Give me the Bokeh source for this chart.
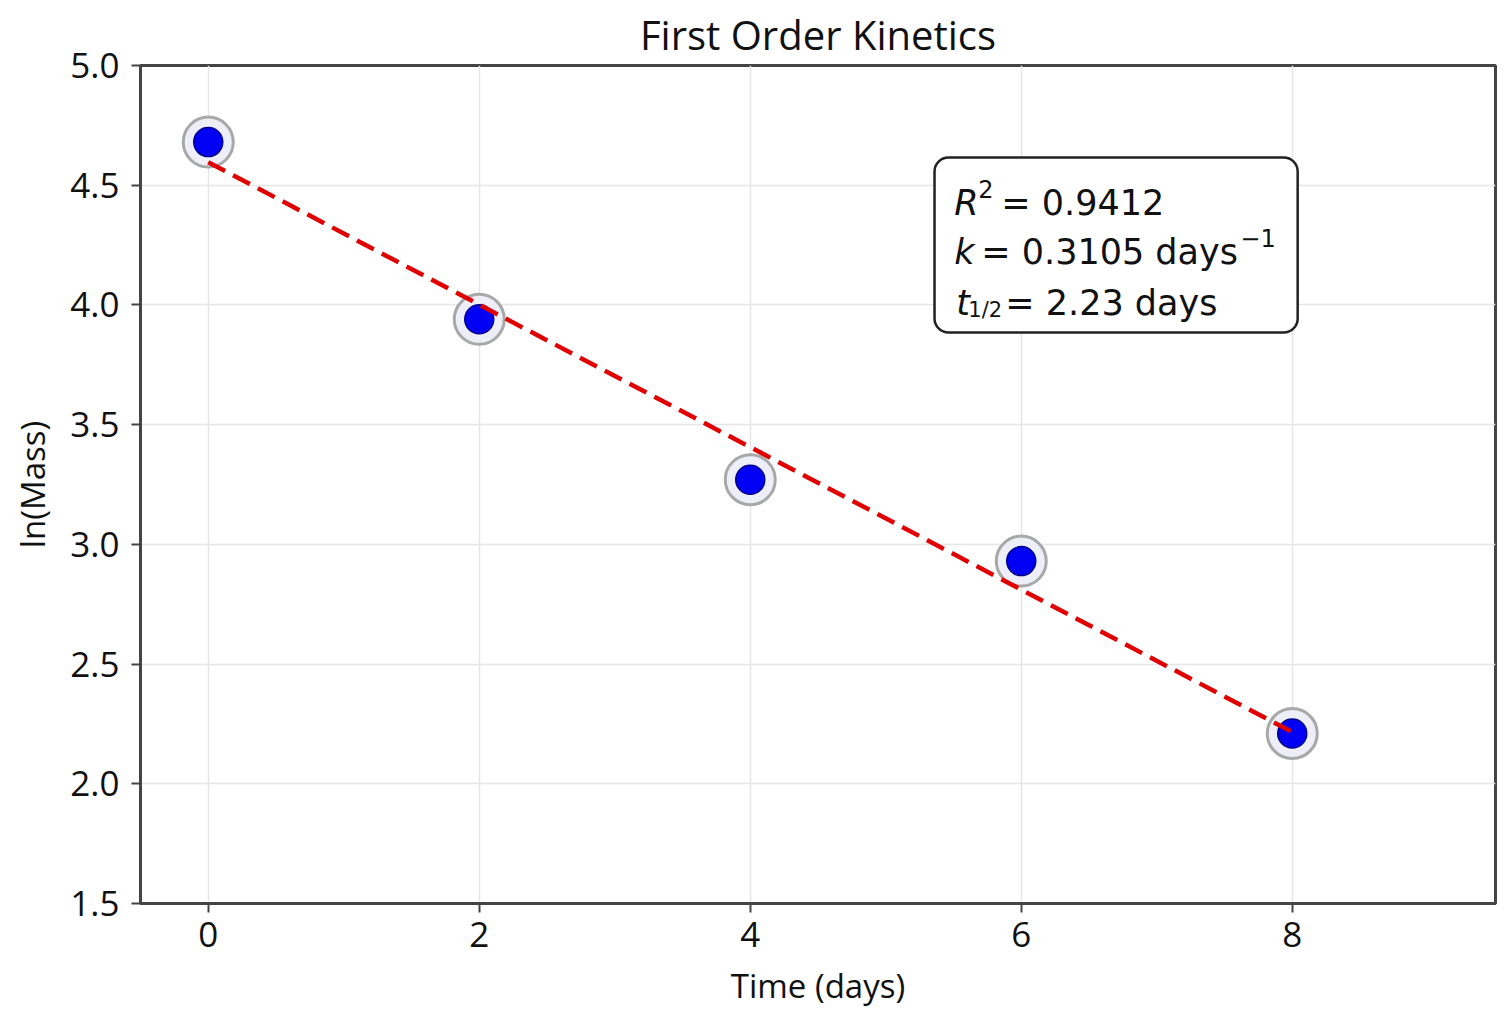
import numpy as np
from bokeh.plotting import figure
from bokeh.models import Label, BoxAnnotation, FixedTicker, Range1d, PrintfTickFormatter
from bokeh.embed import file_html
from bokeh.resources import INLINE

# ---- data ----
time_days = [0, 2, 4, 6, 8]
ln_mass = [4.68, 3.94, 3.27, 2.93, 2.21]
x_ticks = [0, 2, 4, 6, 8]
y_ticks = [1.5, 2.0, 2.5, 3.0, 3.5, 4.0, 4.5, 5.0]
stats_r2 = "0.9412"
stats_k = "0.3105"
stats_half = "2.23"

# linear fit of ln(mass) vs time
slope, intercept = np.polyfit(time_days, ln_mass, 1)
fit_x = [min(time_days), max(time_days)]
fit_y = [intercept + slope * v for v in fit_x]

FONT = "Open Sans"
MATH = "DejaVu Sans"

p = figure(width=1512, height=1022, output_backend="svg", toolbar_location=None,
           x_range=Range1d(-0.5, 9.5), y_range=Range1d(1.5, 5.0),
           min_border_left=140, min_border_right=17, min_border_top=65,
           min_border_bottom=119)

p.title.text = "First Order Kinetics"
p.title.align = "center"
p.title.text_font = FONT
p.title.text_font_size = "40px"
p.title.text_font_style = "normal"
p.title.text_color = "#111111"
p.title.standoff = 8

p.outline_line_color = "#444444"
p.outline_line_width = 3
p.outline_line_alpha = 1.0

for ax in (p.xaxis[0], p.yaxis[0]):
    ax.axis_line_color = "#444444"
    ax.axis_line_width = 3
    ax.major_tick_line_color = "#444444"
    ax.major_tick_line_width = 2
    ax.major_tick_out = 9
    ax.major_tick_in = 0
    ax.minor_tick_line_color = None
    ax.major_label_text_font = FONT
    ax.major_label_text_font_size = "35px"
    ax.major_label_text_color = "#111111"
    ax.axis_label_text_font = FONT
    ax.axis_label_text_font_size = "33px"
    ax.axis_label_text_font_style = "normal"
    ax.axis_label_text_color = "#111111"

p.xaxis.ticker = FixedTicker(ticks=x_ticks)
p.yaxis.ticker = FixedTicker(ticks=y_ticks)
p.yaxis.formatter = PrintfTickFormatter(format="%.1f")
p.xaxis.axis_label = "Time (days)"
p.yaxis.axis_label = "ln(Mass)"
p.xaxis.major_label_standoff = 9
p.yaxis.major_label_standoff = 12
p.xaxis.axis_label_standoff = 13
p.yaxis.axis_label_standoff = 12

p.xgrid.grid_line_color = "#e6e6e6"
p.ygrid.grid_line_color = "#e6e6e6"
p.xgrid.grid_line_width = 1.5
p.ygrid.grid_line_width = 1.5

# markers: halo ring + blue dot
p.scatter(time_days, ln_mass, size=50, fill_color="#eeeef8", line_color="#a8a8a8",
          line_width=3)
p.scatter(time_days, ln_mass, size=29, fill_color="#0000f5", line_color="#00008a",
          line_width=1.5)

# fitted line
p.line(fit_x, fit_y, line_color="#e00000", line_width=4.5, line_dash="19 9")

# stats box
box = BoxAnnotation(left=5.36, right=8.04, bottom=3.885, top=4.616,
                    fill_color="white", fill_alpha=1.0, line_color="#222222",
                    line_alpha=1.0, line_width=2.5, border_radius=14)
p.add_layout(box)

tx = 5.506
rows = [4.424, 4.219, 4.006]
fs = "35px"

def lab(y, text, xo=0, yo=0, italic=False, size=fs):
    p.add_layout(Label(x=tx, y=y, x_offset=xo, y_offset=yo, text=text,
                       text_font=MATH, text_font_size=size,
                       text_font_style="italic" if italic else "normal",
                       text_color="#111111", text_baseline="alphabetic"))

lab(rows[0], "R", italic=True)
lab(rows[0], "2", xo=24, yo=14, size="24px")
lab(rows[0], "= " + stats_r2, xo=47)
lab(rows[1], "k", italic=True)
lab(rows[1], "= " + stats_k + " days", xo=27)
lab(rows[1], "\u22121", xo=286, yo=14, size="24px")
lab(rows[2], "t", xo=2, italic=True)
lab(rows[2], "1/2", xo=14, yo=-7, size="21px")
lab(rows[2], "= " + stats_half + " days", xo=51)

open("out.html", "w").write(file_html(p, INLINE))
